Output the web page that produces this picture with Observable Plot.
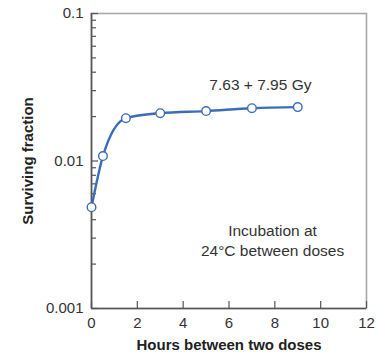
<!DOCTYPE html>
<html>
<head>
<meta charset="utf-8">
<script src="https://cdn.jsdelivr.net/npm/d3@7"></script>
<script src="https://cdn.jsdelivr.net/npm/@observablehq/plot@0.6"></script>
<style>
  html, body { margin: 0; padding: 0; background: #fff; }
  #chart svg { display: block; }
</style>
</head>
<body>
<div id="chart"></div>
<script>
// Data
const hours = [0, 0.5, 1.5, 3, 5, 7, 9];
const survival = [0.00486, 0.0108, 0.0195, 0.0211, 0.0218, 0.0228, 0.0232];
const xTicks = [0, 2, 4, 6, 8, 10, 12];
const yMajor = [0.001, 0.01, 0.1];
const yMinor = [0.002, 0.003, 0.004, 0.005, 0.006, 0.007, 0.008, 0.009,
                0.02, 0.03, 0.04, 0.05, 0.06, 0.07, 0.08, 0.09];
const seriesLabel = "7.63 + 7.95 Gy";
const noteLabel = "Incubation at\n24°C between doses";
const xTitle = "Hours between two doses";
const yTitle = "Surviving fraction";

const points = hours.map((h, i) => ({h, s: survival[i]}));

const W = 376, H = 353;
const mL = 91, mR = 10, mT = 13, mB = 45;
const pw = W - mL - mR, ph = H - mT - mB;
const blue = "#3d6cb8";
const font = "Liberation Sans, Arial, Helvetica, sans-serif";

const chart = Plot.plot({
  width: W,
  height: H,
  marginLeft: mL,
  marginRight: mR,
  marginTop: mT,
  marginBottom: mB,
  style: {fontFamily: font, fontSize: "15px", color: "#333", background: "#fff"},
  x: {domain: [0, 12]},
  y: {type: "log", domain: [0.001, 0.1]},
  marks: [
    Plot.frame({stroke: "#a8a8a8", strokeWidth: 1.6}),
    // inward ticks
    Plot.tickX(xTicks, {x: d => d, insetTop: ph - 7, stroke: "#555", strokeWidth: 1.2}),
    Plot.tickY(yMinor, {y: d => d, insetRight: pw - 5, stroke: "#555", strokeWidth: 1.2}),
    Plot.tickY(yMajor, {y: d => d, insetRight: pw - 7, stroke: "#555", strokeWidth: 1.2}),
    Plot.ruleX([0], {stroke: "#555", strokeWidth: 1.6}),
    Plot.ruleY([0.001], {stroke: "#555", strokeWidth: 1.6}),
    Plot.axisX({ticks: xTicks, tickSize: 0, tickPadding: 9, tickFormat: d => String(d), label: null, fontSize: 15, fill: "#333"}),
    Plot.axisY({ticks: yMajor, tickSize: 0, tickPadding: 8, tickFormat: d => String(d), label: null, fontSize: 15, fill: "#333"}),
    Plot.line(points, {x: "h", y: "s", curve: "monotone-x", stroke: blue, strokeWidth: 2.4}),
    Plot.dot(points, {x: "h", y: "s", r: 4.3, fill: "#fff", stroke: blue, strokeWidth: 1.4}),
    Plot.text([seriesLabel], {x: 7.37, y: 0.0325, text: d => d, fontSize: 15.5, fill: "#333"}),
    Plot.text([noteLabel], {x: 7.9, y: 0.00292, text: d => d, fontSize: 15.5, lineHeight: 1.25, fill: "#333"}),
    Plot.text([xTitle], {frameAnchor: "bottom", dy: 37, lineAnchor: "middle", textAnchor: "middle", text: d => d, fontSize: 15, fontWeight: "bold", fill: "#222"}),
    Plot.text([yTitle], {frameAnchor: "left", dx: -63, rotate: -90, textAnchor: "middle", lineAnchor: "middle", text: d => d, fontSize: 15, fontWeight: "bold", fill: "#222"})
  ]
});

document.getElementById("chart").appendChild(chart);
</script>
</body>
</html>
